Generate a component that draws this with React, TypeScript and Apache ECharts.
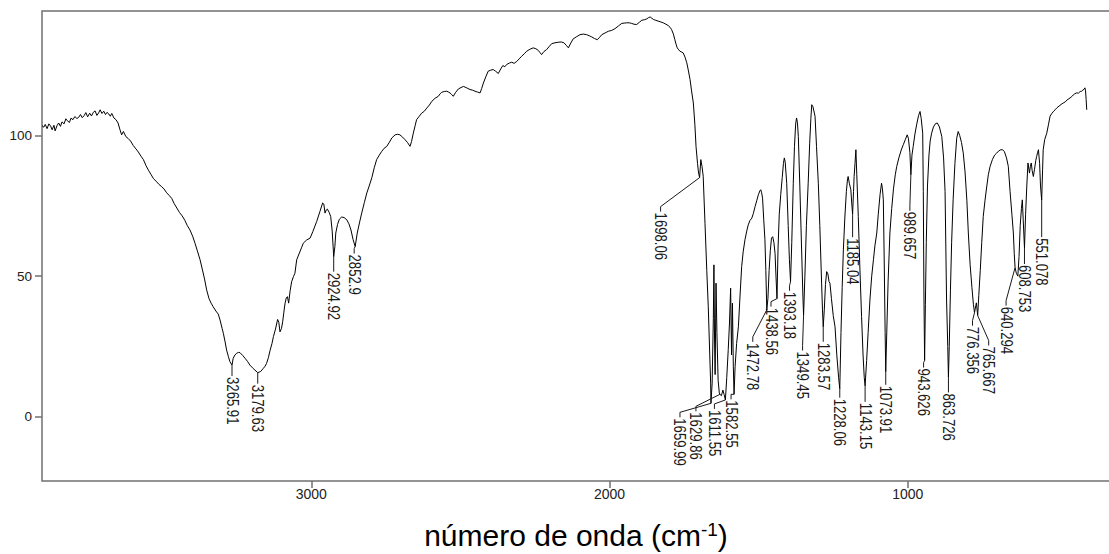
import React, { useEffect, useRef } from "react";
import * as echarts from "echarts";

const FONT = '"Liberation Sans", Arial, Helvetica, sans-serif';

// Axis ticks
const X_TICKS = [3000, 2000, 1000];
const Y_TICKS = [0, 50, 100];
const X_RANGE = [322, 3903];
const Y_RANGE = [-22.8, 144.2];

// Picked peaks: wavenumber (cm-1) and transmittance at the minimum
const PEAK_WAVENUMBERS = [
  3265.91, 3179.63, 2924.92, 2852.9, 1698.06, 1659.99, 1629.86, 1611.55, 1582.55,
  1472.78, 1438.56, 1393.18, 1349.45, 1283.57, 1228.06, 1185.04, 1143.15, 1073.91,
  989.657, 943.626, 863.726, 776.356, 765.667, 640.294, 608.753, 551.078,
];
const PEAK_TRANSMITTANCE = [
  18.4, 15.7, 56.9, 60.5, 85, 4.8, 8, 6, 8,
  38, 42, 48, 36, 32, 10, 72, 11, 16,
  86, 20, 14, 37, 36, 53, 60, 77,
];

// Label placement in pixels: [horizontal shift of the text, drop from the minimum to the text]
const PEAK_LABEL_OFFSETS: [number, number][] = [
  [0, 12], [0, 12], [0, 16], [-1, 8], [-39, 35], [-31, 15], [-24, 18], [-11, 10], [-3, 6],
  [-14, 33], [-6, 9], [-1, 10], [-1, 36], [0, 16], [0, 10], [0, 24], [0, 17], [0, 14],
  [-1, 37], [-1, 8], [0, 16], [-2, 14], [11, 31], [-9, 39], [0, 17], [0, 38],
];

// O-H / C-H stretching region
const SPECTRUM_STRETCH: [number, number][] = [
  [3903, 103.5], [3897, 102.9], [3892, 103.9], [3886, 102.4], [3880, 104.1], [3874, 103.3],
  [3869, 102.0], [3863, 103.6], [3859, 101.6], [3853, 103.4], [3847, 104.4], [3841, 103.2],
  [3836, 104.8], [3829, 104.1], [3823, 105.9], [3818, 105.2], [3811, 104.6], [3806, 106.1],
  [3799, 105.6], [3793, 106.7], [3786, 106.0], [3780, 106.4], [3774, 107.4], [3768, 106.3],
  [3762, 107.0], [3756, 108.1], [3750, 106.6], [3743, 107.9], [3737, 106.9], [3731, 108.2],
  [3725, 108.7], [3719, 107.1], [3713, 108.0], [3708, 109.1], [3702, 107.8], [3696, 108.6],
  [3690, 107.4], [3685, 108.2], [3679, 107.6], [3674, 106.8], [3669, 107.8], [3662, 106.2],
  [3655, 105.6], [3648, 104.4], [3642, 102.2], [3636, 100.2], [3630, 101.4],
  [3622, 99.6], [3614, 98.9], [3606, 98.0], [3597, 96.4], [3588, 95.2], [3580, 94.1],
  [3571, 92.6], [3563, 91.4], [3554, 89.2], [3546, 87.6], [3538, 86.2], [3529, 84.6],
  [3520, 83.7], [3511, 82.6], [3502, 81.8], [3494, 81.0], [3485, 79.6], [3476, 78.6],
  [3468, 77.6], [3460, 75.8], [3451, 74.2], [3442, 72.6], [3433, 71.4], [3424, 69.8],
  [3416, 68.0], [3407, 66.4], [3398, 64.2], [3390, 61.7], [3381, 58.6], [3373, 55.8],
  [3365, 52.2], [3358, 49.0], [3351, 45.1], [3343, 42.0], [3336, 40.4], [3329, 39.1],
  [3320, 37.6], [3312, 36.5], [3306, 34.4], [3299, 31.4], [3295, 29.7], [3289, 26.6],
  [3284, 23.7], [3278, 21.4], [3273, 19.6], [3262, 20.8], [3256, 22.0], [3250, 22.6],
  [3244, 22.9], [3239, 22.8], [3230, 21.8], [3222, 20.8], [3214, 19.7], [3206, 18.4],
  [3197, 17.4], [3189, 16.6], [3170, 16.1], [3161, 17.2], [3155, 18.0], [3150, 19.0],
  [3144, 21.0], [3138, 23.7], [3132, 26.0], [3127, 28.5], [3120, 31.2], [3113, 34.6],
  [3109, 33.6], [3105, 30.2], [3100, 31.4], [3096, 33.8], [3092, 37.2], [3088, 40.4],
  [3084, 42.2], [3080, 42.7], [3076, 40.4], [3071, 44.8], [3066, 48.0], [3060, 49.8],
  [3055, 51.0], [3049, 55.8], [3040, 58.2], [3032, 60.3], [3027, 61.7], [3016, 62.8],
  [3004, 63.5], [2995, 65.8], [2982, 69.4], [2971, 73.0], [2962, 76.0], [2958, 75.6],
  [2954, 72.4], [2950, 73.5], [2946, 73.8], [2940, 72.6], [2935, 71.2], [2930, 66.0],
  [2921, 60.5], [2918, 65.3], [2912, 68.4], [2906, 70.2], [2898, 71.0], [2890, 70.8],
  [2881, 70.0], [2874, 68.6], [2867, 66.4], [2860, 63.0], [2846, 65.3], [2838, 69.2],
  [2831, 72.4], [2822, 76.2], [2814, 79.5], [2806, 82.0], [2797, 85.0], [2789, 88.5],
  [2781, 91.4], [2772, 93.0], [2764, 94.3], [2756, 95.4], [2747, 96.1], [2738, 97.6],
  [2730, 99.1], [2719, 100.2], [2711, 100.4], [2703, 100.2], [2694, 99.4], [2686, 98.5],
  [2677, 97.4], [2669, 96.1], [2664, 97.8], [2658, 100.8], [2652, 103.4], [2647, 105.6],
];

// Baseline up to the carbonyl band
const SPECTRUM_BASELINE: [number, number][] = [
  [2638, 106.8], [2630, 107.9], [2621, 108.6], [2613, 109.7], [2604, 110.8], [2596, 112.1],
  [2585, 113.2], [2574, 113.9], [2568, 114.8], [2563, 115.3], [2554, 115.6], [2546, 115.7],
  [2540, 115.4], [2535, 115.1], [2530, 114.6], [2524, 113.9], [2516, 115.3], [2507, 116.5],
  [2498, 117.0], [2490, 117.4], [2479, 116.9], [2468, 116.3], [2460, 116.1], [2451, 115.7],
  [2443, 115.4], [2434, 115.1], [2429, 116.6], [2423, 118.6], [2415, 120.8], [2407, 122.8],
  [2398, 123.2], [2390, 123.4], [2382, 122.8], [2373, 122.0], [2365, 123.6], [2358, 124.8],
  [2351, 124.4], [2345, 125.2], [2336, 125.7], [2328, 126.0], [2320, 125.6], [2311, 126.3],
  [2303, 127.2], [2295, 128.1], [2286, 129.0], [2278, 129.9], [2267, 130.6], [2256, 131.1],
  [2247, 130.8], [2239, 130.2], [2233, 129.4], [2228, 128.7], [2220, 129.8], [2211, 130.5],
  [2203, 131.5], [2194, 132.6], [2183, 132.9], [2172, 133.1], [2162, 133.2], [2153, 132.9],
  [2145, 132.0], [2138, 131.1], [2130, 132.8], [2122, 134.3], [2110, 135.1], [2099, 135.8],
  [2088, 136.0], [2077, 135.8], [2068, 135.4], [2060, 135.0], [2050, 134.4], [2041, 134.0],
  [2033, 134.9], [2026, 135.8], [2015, 136.4], [2004, 137.0], [1993, 137.3], [1982, 137.9],
  [1970, 138.9], [1959, 139.8], [1951, 139.9], [1943, 140.0], [1934, 140.0], [1926, 139.8],
  [1918, 139.5], [1909, 139.4], [1900, 140.2], [1892, 140.9], [1883, 141.1], [1875, 141.4],
  [1870, 141.8], [1864, 142.1], [1858, 141.6], [1853, 141.2], [1845, 140.9], [1837, 140.6],
  [1828, 140.3], [1820, 140.0], [1811, 139.5], [1803, 139.0], [1797, 138.4], [1792, 137.6],
  [1786, 136.0], [1781, 134.0], [1777, 132.4], [1773, 131.1], [1768, 130.4], [1764, 129.9],
  [1758, 129.6], [1753, 129.3], [1747, 127.8], [1741, 125.8], [1736, 123.2], [1730, 119.8],
  [1725, 115.8], [1719, 111.5], [1714, 104.0], [1710, 96.0], [1705, 90.0], [1702, 87.0],
];

// Carbonyl and aromatic bands
const SPECTRUM_DOUBLE_BOND: [number, number][] = [
  [1694, 91.4], [1690, 89.0], [1686, 85.5], [1680, 68.8], [1674, 52.0], [1669, 39.1],
  [1664, 22.0], [1661, 12.0], [1656, 12.0], [1652, 35.0], [1650, 54.0], [1648, 28.0],
  [1646, 15.0], [1643, 47.5], [1640, 30.0], [1636, 13.0], [1632, 8.5], [1625, 7.5],
  [1620, 9.5], [1616, 8.0], [1607, 14.0], [1602, 24.0], [1598, 33.0], [1594, 45.7],
  [1591, 22.0], [1588, 40.4], [1585, 18.0], [1579, 18.0], [1574, 26.0], [1568, 32.0],
  [1562, 44.0], [1557, 53.4], [1552, 58.6], [1546, 62.9], [1540, 66.0], [1535, 68.2],
  [1529, 69.8], [1523, 70.6], [1518, 72.2], [1512, 74.7], [1506, 77.0], [1501, 78.9],
  [1496, 80.3], [1493, 80.7], [1490, 79.6], [1487, 77.7], [1483, 70.0], [1479, 62.9],
  [1476, 52.0],
];

// Fingerprint region
const SPECTRUM_FINGERPRINT: [number, number][] = [
  [1469, 42.0], [1465, 52.0], [1461, 59.0], [1457, 63.5], [1453, 64.0], [1449, 62.0],
  [1445, 58.0], [1442, 50.0], [1435, 60.0], [1431, 72.0], [1426, 79.0], [1421, 85.0],
  [1417, 90.0], [1414, 92.0], [1411, 90.5], [1406, 83.0], [1401, 68.0], [1397, 56.0],
  [1389, 62.0], [1384, 83.0], [1380, 96.0], [1376, 104.0], [1373, 106.2], [1370, 104.5],
  [1367, 99.6], [1362, 82.0], [1356, 59.3], [1352, 44.0], [1345, 50.0], [1340, 68.0],
  [1334, 83.0], [1329, 97.0], [1325, 106.0], [1322, 110.9], [1318, 110.2], [1311, 106.8],
  [1306, 96.0], [1300, 83.0], [1295, 68.0], [1289, 47.5], [1286, 38.0], [1280, 38.0],
  [1276, 47.0], [1272, 51.6], [1268, 50.8], [1264, 48.0], [1261, 47.5], [1256, 42.0],
  [1250, 36.0], [1244, 32.0], [1238, 22.0], [1232, 14.0], [1224, 30.0], [1220, 46.0],
  [1216, 59.3], [1211, 71.0], [1206, 80.0], [1202, 84.6], [1200, 85.4], [1196, 83.0],
  [1191, 80.7], [1188, 76.0], [1182, 80.0], [1180, 85.4], [1177, 90.0], [1174, 94.9],
  [1171, 86.0], [1166, 71.2], [1161, 54.0], [1155, 35.6], [1150, 22.0], [1146, 14.0],
  [1138, 20.0], [1133, 30.0], [1127, 41.5], [1121, 50.0], [1115, 56.0], [1110, 61.0],
  [1104, 65.3], [1099, 72.0], [1093, 79.0], [1088, 83.0], [1085, 81.0], [1082, 77.1],
  [1079, 55.0], [1076, 30.0], [1071, 28.0], [1066, 48.0], [1060, 65.3], [1054, 74.0],
  [1048, 81.0], [1042, 86.0], [1037, 89.0], [1030, 92.0], [1022, 94.8], [1015, 96.7],
  [1008, 98.6], [1002, 100.2], [998, 99.0], [993, 94.0], [986, 93.0], [982, 96.0],
  [976, 100.5], [970, 104.0], [964, 107.0], [959, 108.5], [955, 106.0], [950, 100.8],
  [948, 80.0], [946, 45.0], [941, 40.0], [938, 62.0], [934, 82.0], [929, 93.0],
  [925, 98.0], [920, 100.8], [914, 103.0], [907, 104.2], [901, 104.4], [894, 103.0],
  [886, 99.6], [880, 92.0], [875, 80.0], [870, 41.5], [866, 25.0], [861, 25.0],
  [857, 45.0], [853, 62.0], [848, 77.1], [842, 90.0], [836, 99.0], [831, 101.4],
  [826, 100.0], [820, 97.5], [814, 93.7], [808, 87.0], [802, 77.0], [797, 65.3],
  [791, 54.0], [785, 46.0], [780, 40.0], [772, 39.5], [770, 40.5], [762, 43.0],
  [757, 52.0], [752, 62.0], [747, 71.2], [741, 77.0], [735, 82.0], [730, 86.0],
  [724, 89.0], [716, 91.5], [709, 93.0], [702, 93.7], [695, 94.5], [688, 94.9],
  [682, 94.9], [676, 94.2], [669, 92.0], [663, 89.0], [657, 80.0], [651, 72.0],
  [646, 65.3], [643, 58.0], [636, 51.0], [631, 50.0], [627, 57.0], [623, 68.0],
  [619, 74.0], [616, 77.1], [613, 70.0], [605, 72.0], [601, 82.0], [597, 90.2],
  [594, 88.0], [592, 86.6], [589, 89.0], [586, 90.2], [583, 87.5], [579, 85.4],
  [575, 88.0], [571, 91.0], [568, 92.5], [565, 93.8], [562, 94.9], [558, 90.0],
  [555, 82.0], [548, 88.0], [546, 94.9], [541, 98.5], [534, 100.8], [528, 104.0],
  [523, 106.8], [517, 107.8], [511, 108.6], [506, 109.1], [500, 109.8], [493, 110.4],
  [486, 111.0], [479, 111.5], [472, 111.9], [466, 112.6], [460, 113.0], [456, 113.3],
  [450, 113.8], [445, 114.4], [440, 114.8], [434, 115.1], [428, 115.0], [422, 115.6],
  [417, 115.7], [413, 116.1], [409, 116.4], [406, 116.9], [404, 115.8], [402, 112.7],
  [400, 109.1],
];

const peakPoints: [number, number][] = PEAK_WAVENUMBERS.map((wn, i) => [wn, PEAK_TRANSMITTANCE[i]]);

// Full trace: all segments plus the picked minima, ordered by wavenumber
const spectrum: [number, number][] = [
  ...SPECTRUM_STRETCH,
  ...SPECTRUM_BASELINE,
  ...SPECTRUM_DOUBLE_BOND,
  ...SPECTRUM_FINGERPRINT,
  ...peakPoints,
].sort((a, b) => b[0] - a[0]);

function renderPeakLabel(params: any, api: any) {
  const i = params.dataIndex;
  const [px, py] = api.coord([api.value(0), api.value(1)]);
  const [dx, drop] = PEAK_LABEL_OFFSETS[i];
  const lx = px + dx;
  const top = py + drop;
  const points =
    dx === 0
      ? [[px, py], [px, top - 1]]
      : [[px, py], [lx, top - 6], [lx, top - 1]];
  return {
    type: "group",
    children: [
      {
        type: "polyline",
        shape: { points },
        style: { stroke: "#1a1a1a", lineWidth: 1, fill: null },
      },
      {
        type: "text",
        x: lx,
        y: top,
        rotation: -Math.PI / 2,
        scaleX: 0.82,
        style: {
          text: String(PEAK_WAVENUMBERS[i]),
          fontSize: 16,
          fontFamily: FONT,
          fill: "#1a1a1a",
          align: "left",
          verticalAlign: "middle",
        },
      },
    ],
  };
}

export default function App() {
  const ref = useRef<HTMLDivElement>(null);

  useEffect(() => {
    if (!ref.current) return;
    const chart = echarts.init(ref.current, undefined, { renderer: "svg" });
    chart.setOption({
      animation: false,
      backgroundColor: "#ffffff",
      grid: {
        left: 42,
        top: 11,
        width: 1068,
        height: 470,
        outerBoundsMode: "none",
        containLabel: false,
        show: true,
        borderColor: "#707070",
        borderWidth: 1.5,
        backgroundColor: "transparent",
      },
      xAxis: {
        type: "value",
        inverse: true,
        min: X_RANGE[0],
        max: X_RANGE[1],
        axisLine: { show: false, onZero: false },
        splitLine: { show: false },
        axisTick: {
          show: true,
          length: 7,
          customValues: X_TICKS,
          lineStyle: { color: "#707070", width: 1.5 },
        },
        axisLabel: {
          customValues: X_TICKS,
          formatter: (v: number) => String(v),
          margin: 6,
          fontSize: 14,
          fontFamily: FONT,
          color: "#222",
        },
        name: "{t|número de onda (cm}{s|-1}{t|)}",
        nameLocation: "middle",
        nameGap: 39,
        nameTextStyle: {
          rich: {
            t: { fontSize: 30, fontFamily: FONT, color: "#000", lineHeight: 30 },
            s: { fontSize: 19, fontFamily: FONT, color: "#000", lineHeight: 14, verticalAlign: "top" },
          },
        },
      },
      yAxis: {
        type: "value",
        min: Y_RANGE[0],
        max: Y_RANGE[1],
        axisLine: { show: false, onZero: false },
        splitLine: { show: false },
        axisTick: {
          show: true,
          length: 7,
          customValues: Y_TICKS,
          lineStyle: { color: "#707070", width: 1.5 },
        },
        axisLabel: {
          customValues: Y_TICKS,
          formatter: (v: number) => String(v),
          margin: 10,
          fontSize: 13.5,
          fontFamily: FONT,
          color: "#222",
        },
      },
      series: [
        {
          type: "line",
          data: spectrum,
          showSymbol: false,
          silent: true,
          lineStyle: { color: "#000", width: 1 },
          z: 2,
        },
        {
          type: "custom",
          data: peakPoints,
          renderItem: renderPeakLabel,
          silent: true,
          clip: false,
          z: 3,
        },
      ],
    });
    return () => chart.dispose();
  }, []);

  return (
    <div
      ref={ref}
      style={{ position: "absolute", left: 0, top: 0, width: 1109, height: 554, background: "#fff" }}
    />
  );
}
